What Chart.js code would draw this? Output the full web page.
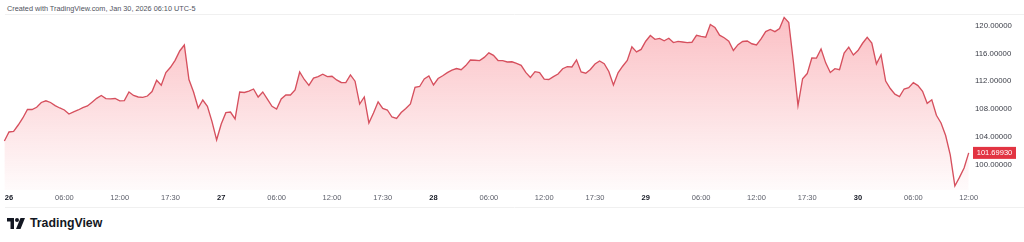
<!DOCTYPE html>
<html lang="en">
<head>
<meta charset="UTF-8">
<title>Price chart</title>
<script src="https://cdn.jsdelivr.net/npm/chart.js"></script>
<style>
  html, body { margin: 0; padding: 0; background: #fff; }
  body { width: 1024px; height: 242px; position: relative; overflow: hidden; font-family: "Liberation Sans", Arial, sans-serif; }
  #wrap { position: absolute; left: 0; top: 0; width: 1024px; height: 212px; }
  #caption { position: absolute; left: 7px; top: 4px; font-size: 7.3px; color: #50535e; white-space: nowrap; }
  #brand { position: absolute; left: 7px; top: 216px; display: flex; align-items: center; font-weight: bold; font-size: 12.3px; color: #131722; }
  #brand svg { margin-right: 5px; }
</style>
</head>
<body>
<div id="caption">Created with TradingView.com, Jan 30, 2026 06:10 UTC-5</div>
<div id="wrap"><canvas id="priceChart"></canvas></div>
<div id="brand">
  <svg width="18" height="11" viewBox="0 0 36 22">
    <path d="M0 0h14v22H7V7H0z" fill="#131722"/>
    <circle cx="20" cy="4" r="4" fill="#131722"/>
    <path d="M27 0h9l-9 22h-9z" fill="#131722"/>
  </svg>
  <span>TradingView</span>
</div>

<script>
// time axis: session hours counted from the 26th 00:00
const tickHours = [0, 6, 12, 17.5, 23, 29, 35, 40.5, 46, 52, 58, 63.5, 69, 75, 81, 86.5, 92, 98, 104];
const tickLabels = ['26', '06:00', '12:00', '17:30', '27', '06:00', '12:00', '17:30', '28', '06:00', '12:00', '17:30',
                    '29', '06:00', '12:00', '17:30', '30', '06:00', '12:00'];
const priceTicks = [100, 104, 108, 112, 116, 120];

// one reading every half hour, first one at 25th 23:30
const startHour = -0.5;
const stepHours = 0.5;
const prices = [
    103.41, 104.71, 104.78, 105.71, 106.72, 107.94, 107.94, 108.26, 108.95, 109.19,
    108.95, 108.50, 108.16, 107.87, 107.29, 107.61, 107.87, 108.22, 108.45, 108.99,
    109.55, 109.96, 109.51, 109.47, 109.53, 109.18, 109.22, 110.46, 109.96, 109.74,
    109.68, 109.88, 110.52, 112.14, 111.44, 113.25, 114.01, 115.01, 116.36, 117.22,
    112.26, 110.46, 108.16, 109.31, 108.40, 106.19, 103.58, 105.86, 107.48, 107.58,
    106.58, 110.46, 110.39, 110.58, 110.89, 109.74, 110.46, 109.45, 108.40, 108.01,
    109.45, 110.03, 110.03, 110.75, 113.34, 112.26, 111.42, 112.47, 112.68, 113.01,
    112.68, 112.73, 112.19, 111.83, 111.80, 112.91, 112.01, 108.73, 109.74, 106.00,
    107.44, 109.05, 108.10, 107.87, 106.86, 106.65, 107.51, 108.09, 108.73, 111.14,
    111.25, 112.33, 112.76, 111.47, 112.40, 112.79, 113.25, 113.61, 113.84, 113.67,
    114.26, 115.06, 115.02, 114.98, 115.44, 116.09, 115.73, 114.99, 114.98, 114.78,
    114.81, 114.59, 114.29, 113.27, 112.55, 113.38, 113.25, 112.32, 112.26, 112.66,
    113.04, 113.81, 114.10, 114.06, 115.08, 113.34, 113.17, 113.71, 114.49, 114.92,
    114.52, 113.41, 111.47, 113.21, 114.17, 114.99, 116.95, 116.23, 116.58, 117.76,
    118.59, 118.04, 118.17, 117.83, 118.19, 117.57, 117.74, 117.65, 117.57, 117.61,
    118.62, 118.45, 118.33, 120.17, 119.74, 118.63, 118.26, 117.77, 116.43, 117.27,
    117.73, 117.80, 117.40, 117.22, 118.09, 119.15, 119.45, 119.14, 119.58, 121.19,
    120.45, 114.81, 108.49, 112.37, 113.11, 115.35, 115.34, 116.65, 114.65, 113.27,
    113.81, 113.68, 116.07, 116.91, 115.78, 116.43, 117.47, 118.32, 117.51, 114.50,
    115.81, 112.04, 110.96, 110.14, 109.80, 110.89, 111.08, 111.81, 111.38, 110.56,
    108.83, 109.34, 107.11, 106.00, 104.20, 101.42, 96.94, 98.17, 99.53, 101.6993
];

const points = prices.map((p, i) => ({ x: startHour + i * stepHours, y: p }));
const lastPrice = prices[prices.length - 1];

// faint frame lines + last price tag on the right scale
const frameAndTag = {
    id: 'frameAndTag',
    beforeDraw(chart) {
        const c = chart.ctx;
        c.save();
        c.strokeStyle = '#f0f0f0';
        c.lineWidth = 1;
        c.beginPath();
        c.moveTo(5, chart.chartArea.top + 0.5);
        c.lineTo(chart.width, chart.chartArea.top + 0.5);
        c.moveTo(5, chart.chartArea.bottom + 17.5);
        c.lineTo(chart.width, chart.chartArea.bottom + 17.5);
        c.stroke();
        c.restore();
    },
    afterDraw(chart) {
        const c = chart.ctx;
        const y = chart.scales.y.getPixelForValue(lastPrice);
        const x = chart.chartArea.right + 3;
        c.save();
        c.fillStyle = '#e23442';
        c.fillRect(x, y - 6, 43, 12);
        c.fillStyle = '#ffffff';
        c.font = '7.5px "Liberation Sans", Arial, sans-serif';
        c.textAlign = 'center';
        c.textBaseline = 'middle';
        c.fillText(lastPrice.toFixed(5), x + 21.5, y + 0.5);
        c.restore();
    }
};

const ctx = document.getElementById('priceChart').getContext('2d');
const priceChart = new Chart(ctx, {
    type: 'line',
    data: {
        datasets: [{
            data: points,
            borderColor: 'rgb(214, 80, 94)',
            borderWidth: 1.35,
            pointRadius: 0,
            tension: 0,
            fill: 'start',
            backgroundColor: function (context) {
                const area = context.chart.chartArea;
                if (!area) return 'rgba(242, 54, 69, 0.15)';
                const g = context.chart.ctx.createLinearGradient(0, area.top, 0, area.bottom);
                g.addColorStop(0, 'rgba(242, 54, 69, 0.32)');
                g.addColorStop(1, 'rgba(242, 54, 69, 0.02)');
                return g;
            }
        }]
    },
    options: {
        responsive: true,
        maintainAspectRatio: false,
        animation: false,
        layout: { padding: { top: 14, left: 0, right: 0, bottom: 0 } },
        plugins: { legend: { display: false }, tooltip: { enabled: false } },
        scales: {
            x: {
                type: 'linear',
                min: -0.975,
                max: 104.14,
                grid: { display: false, drawTicks: false },
                border: { display: false },
                afterBuildTicks: function (scale) {
                    scale.ticks = tickHours.map(v => ({ value: v }));
                },
                afterFit: function (scale) { scale.height = 22; },
                ticks: {
                    autoSkip: false,
                    maxRotation: 0,
                    padding: 3,
                    color: function (c) { return /:/.test(tickLabels[c.index]) ? '#5d606b' : '#131722'; },
                    font: function (c) {
                        return {
                            family: '"Liberation Sans", Arial, sans-serif',
                            size: 7.5,
                            weight: /:/.test(tickLabels[c.index]) ? 'normal' : 'bold'
                        };
                    },
                    callback: function (value, index) { return tickLabels[index]; }
                }
            },
            y: {
                position: 'right',
                min: 96.36,
                max: 121.68,
                grid: { display: false, drawTicks: false },
                border: { display: false },
                afterBuildTicks: function (scale) {
                    scale.ticks = priceTicks.map(v => ({ value: v }));
                },
                afterFit: function (scale) { scale.width = 54; },
                ticks: {
                    padding: 5,
                    color: '#3a3d47',
                    font: { family: '"Liberation Sans", Arial, sans-serif', size: 7.8 },
                    callback: function (value) { return value.toFixed(5); }
                }
            }
        }
    },
    plugins: [frameAndTag]
});
</script>
</body>
</html>
